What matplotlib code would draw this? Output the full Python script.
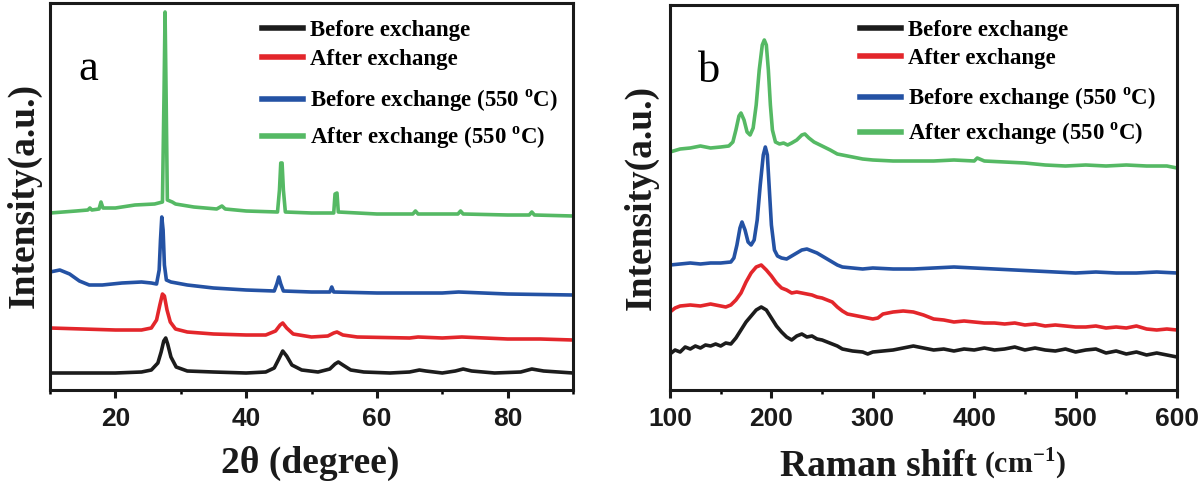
import matplotlib
matplotlib.use('Agg')
import matplotlib.pyplot as plt
from matplotlib.ticker import MultipleLocator

plt.rcParams['mathtext.fontset'] = 'custom'
plt.rcParams['mathtext.rm'] = 'Liberation Serif:bold'
plt.rcParams['mathtext.bf'] = 'Liberation Serif:bold'

# colours of the four samples
c_black = '#1c1c1c'
c_red = '#e3262b'
c_blue = '#2452a4'
c_green = '#55b964'

labels = ['Before exchange', 'After exchange',
          'Before exchange (550 $^{\\rm o}$C)', 'After exchange (550 $^{\\rm o}$C)']

# ---- XRD (panel a), intensities stacked with offsets (a.u.)
xrd_black_x = [10, 15, 20, 24, 25.5, 26.5, 27.0, 27.4, 27.7, 28.0, 28.5, 29.3, 31, 35, 40, 43, 44.3,
               45.0, 45.6, 46.2, 47.0, 48.5, 51, 52.8, 53.6, 54.1, 54.8, 56, 58, 62, 65, 66.5, 67.5,
               70, 72, 73.2, 74.5, 78, 82, 83.7, 85.5, 90]
xrd_black_y = [17, 17, 17, 18, 20, 27, 38, 49, 52, 46, 33, 23, 19, 18, 17, 18, 22,
               31, 39, 34, 25, 20, 18, 21, 26, 28, 25, 20, 18, 17, 18, 20, 19,
               17, 19, 21, 19, 17, 18, 21, 19, 17]

xrd_red_x = [10, 15, 20, 24, 25.5, 26.3, 26.8, 27.2, 27.5, 27.9, 28.4, 29.2, 31, 35, 40, 43, 44.5,
             45.2, 45.6, 46.2, 47.2, 50, 52.5, 53.4, 53.9, 54.8, 57, 65, 66.3, 70, 73, 80, 85, 90]
xrd_red_y = [62, 61, 60, 60, 62, 70, 85, 96, 94, 80, 68, 61, 58, 56, 55, 55, 59,
             65, 67, 62, 56, 53, 54, 57, 58, 55, 53, 52, 53, 52, 53, 51, 51, 50]

xrd_blue_x = [10, 11.5, 13, 14.5, 16, 18, 21, 24, 25.5, 26.3, 26.7, 26.9, 27.1, 27.3, 27.5, 27.8,
              28.5, 31, 35, 40, 44.3, 44.7, 45.0, 45.3, 45.7, 50, 52.8, 53.1, 53.4, 60, 70, 72.5,
              80, 90]
xrd_blue_y = [118, 120, 116, 109, 105, 105, 107, 108, 107, 106, 120, 150, 173, 160, 125, 110,
              108, 105, 102, 100, 99, 106, 113, 106, 99, 98, 98, 103, 98, 97, 97, 98,
              96, 95]

xrd_green_x = [10, 14, 15.8, 16.1, 16.4, 17.5, 17.8, 18.1, 20, 23, 26, 27.2, 27.45, 27.6, 27.75,
               27.95, 28.7, 29.2, 32, 35.5, 36.3, 36.8, 40, 44.8, 45.1, 45.3, 45.5, 45.7, 46, 50,
               53.4, 53.6, 53.9, 54.1, 60, 65.5, 65.9, 66.3, 72.4, 72.8, 73.2, 80, 83.3, 83.7,
               84.1, 90]
xrd_green_y = [177, 179, 180, 182, 180, 181, 188, 182, 182, 185, 186, 188, 300, 378, 300,
               190, 188, 186, 183, 181, 184, 181, 179, 178, 200, 227, 227, 200, 178, 177,
               177, 196, 197, 178, 176, 176, 179, 176, 176, 179, 176, 175, 175, 178,
               175, 174]

# ---- Raman (panel b)
ram_black_x = [100, 105, 110, 115, 120, 125, 130, 135, 140, 145, 150, 155, 160, 165, 170, 175, 180,
               185, 190, 195, 200, 205, 210, 215, 220, 225, 230, 235, 240, 245, 250, 255, 260, 265,
               270, 275, 280, 290, 295, 300, 310, 320, 330, 340, 345, 350, 360, 370, 380, 390, 400,
               410, 420, 430, 440, 450, 460, 470, 480, 490, 500, 510, 520, 530, 540, 550, 560, 570,
               580, 590, 600]
ram_black_y = [36, 40, 38, 43, 41, 44, 42, 45, 44, 46, 44, 47, 46, 52, 60, 68, 74,
               80, 83, 80, 72, 64, 58, 53, 50, 54, 56, 53, 54, 51, 50, 48, 46, 44,
               41, 40, 39, 38, 36, 38, 39, 40, 42, 44, 43, 42, 40, 41, 39, 41, 40,
               42, 40, 41, 43, 40, 42, 40, 39, 41, 38, 40, 41, 37, 39, 36, 38, 35,
               37, 35, 33]

ram_red_x = [100, 105, 110, 120, 130, 140, 150, 155, 160, 165, 170, 175, 180, 185, 190, 195, 200,
             205, 210, 215, 220, 225, 230, 235, 240, 245, 250, 255, 260, 265, 270, 275, 280, 290,
             300, 305, 310, 320, 330, 340, 350, 360, 370, 380, 390, 400, 410, 420, 430, 440, 450,
             460, 470, 480, 490, 500, 510, 520, 530, 540, 550, 560, 570, 580, 590, 600]
ram_red_y = [78, 82, 84, 85, 84, 86, 84, 83, 85, 90, 97, 108, 117, 123, 125, 120, 114,
             107, 102, 100, 97, 98, 97, 96, 95, 93, 92, 90, 88, 83, 79, 76, 75, 73,
             71, 72, 76, 78, 79, 78, 75, 71, 70, 68, 69, 68, 67, 67, 66, 67, 65,
             66, 64, 65, 64, 63, 63, 64, 62, 63, 62, 64, 61, 60, 61, 60]

ram_blue_x = [100, 110, 120, 130, 140, 150, 160, 163, 166, 169, 171, 174, 177, 180, 183, 186, 189,
              192, 194, 196, 198, 200, 203, 206, 210, 215, 220, 225, 230, 235, 240, 245, 250, 255,
              260, 265, 270, 280, 290, 300, 320, 340, 360, 380, 400, 420, 440, 460, 480, 500, 520,
              540, 560, 580, 600]
ram_blue_y = [125, 126, 127, 126, 127, 127, 128, 132, 145, 162, 168, 160, 148, 145, 150, 170, 205,
              235, 243, 235, 200, 165, 140, 134, 132, 131, 134, 137, 140, 141, 139, 137, 134, 131,
              128, 125, 123, 122, 121, 122, 121, 121, 122, 123, 122, 121, 120, 119, 118, 117, 118,
              117, 117, 118, 117]

ram_green_x = [100, 110, 120, 130, 140, 150, 158, 162, 165, 168, 170, 173, 176, 179, 182, 185, 188,
               191, 193, 195, 197, 199, 201, 204, 208, 212, 216, 220, 225, 230, 233, 237, 242, 250,
               258, 265, 275, 290, 300, 320, 340, 360, 380, 400, 403, 410, 430, 450, 470, 490, 510,
               530, 550, 570, 590, 600]
ram_green_y = [238, 241, 242, 244, 242, 243, 244, 248, 260, 274, 277, 270, 258, 255, 262, 285, 320,
               345, 350, 345, 320, 285, 260, 248, 246, 247, 245, 247, 250, 255, 256, 252, 248, 244,
               240, 236, 234, 231, 230, 229, 229, 229, 230, 229, 232, 229, 228, 227, 225, 224, 225,
               224, 225, 224, 224, 222]

fig = plt.figure(figsize=(12, 4.83), dpi=100)
ax1 = fig.add_axes([50 / 1200, 93 / 483, 523 / 1200, 387 / 483])
ax2 = fig.add_axes([670 / 1200, 93 / 483, 507 / 1200, 385 / 483])

lw = 2.6
ax1.plot(xrd_black_x, xrd_black_y, color=c_black, lw=lw, label=labels[0])
ax1.plot(xrd_red_x, xrd_red_y, color=c_red, lw=lw, label=labels[1])
ax1.plot(xrd_blue_x, xrd_blue_y, color=c_blue, lw=lw, label=labels[2])
ax1.plot(xrd_green_x, xrd_green_y, color=c_green, lw=lw, label=labels[3])

ax2.plot(ram_black_x, ram_black_y, color=c_black, lw=lw, label=labels[0])
ax2.plot(ram_red_x, ram_red_y, color=c_red, lw=lw, label=labels[1])
ax2.plot(ram_blue_x, ram_blue_y, color=c_blue, lw=lw, label=labels[2])
ax2.plot(ram_green_x, ram_green_y, color=c_green, lw=lw, label=labels[3])

ax1.set_xlim(10, 90)
ax1.set_ylim(0, 387)
ax1.xaxis.set_major_locator(MultipleLocator(20))
ax1.xaxis.set_minor_locator(MultipleLocator(10))
ax2.set_xlim(100, 600)
ax2.set_ylim(0, 385)
ax2.xaxis.set_major_locator(MultipleLocator(100))
ax2.xaxis.set_minor_locator(MultipleLocator(50))

for ax in (ax1, ax2):
    ax.set_yticks([])
    for s in ax.spines.values():
        s.set_linewidth(2.2)
        s.set_color('#1a1a1a')
    ax.tick_params(axis='x', which='major', direction='out', length=6, width=2.2, pad=6,
                   labelsize=19, colors='#1a1a1a')
    ax.tick_params(axis='x', which='minor', direction='out', length=3, width=1.8)
    for t in ax.get_xticklabels():
        t.set_fontfamily('Liberation Sans')
        t.set_fontweight('bold')

# legend split in two blocks: the rows with superscripts sit further apart
leg_kw = dict(loc='upper left', frameon=False, borderpad=0, borderaxespad=0, handlelength=1.8,
              handletextpad=0.3,
              prop={'family': 'Liberation Serif', 'weight': 'bold', 'size': 16.5})
for ax, x0, ya, yb, sa, sb in [(ax1, 0.405, 0.957, 0.78, 0.35, 0.45),
                               (ax2, 0.375, 0.96, 0.79, 0.28, 0.4)]:
    h, l = ax.get_legend_handles_labels()
    lga = ax.legend(h[:2], l[:2], bbox_to_anchor=(x0, ya), labelspacing=sa, **leg_kw)
    ax.add_artist(lga)
    lgb = ax.legend(h[2:], l[2:], bbox_to_anchor=(x0, yb), labelspacing=sb, **leg_kw)
    for lg in (lga, lgb):
        for line in lg.get_lines():
            line.set_linewidth(4)

ax1.text(0.055, 0.8, 'a', transform=ax1.transAxes, fontsize=32, family='Liberation Serif')
ax2.text(0.055, 0.8, 'b', transform=ax2.transAxes, fontsize=32, family='Liberation Serif')

lab = dict(family='Liberation Serif', weight='bold', color='#1a1a1a')
fig.text(24 / 1200, 287 / 483, 'Intensity(a.u.)', rotation=90, ha='center', va='center',
         fontsize=27, **lab)
fig.text(641 / 1200, 286 / 483, 'Intensity(a.u.)', rotation=90, ha='center', va='center',
         fontsize=27, **lab)
fig.text(310 / 1200, 20 / 483, '2\u03b8 (degree)', ha='center', va='center', fontsize=27, **lab)
fig.text(878 / 1200, 16 / 483, 'Raman shift', ha='center', va='center', fontsize=27, **lab)
fig.text(984 / 1200, 10 / 483, '(cm$^{{-}1}$)', ha='left', va='baseline', fontsize=21.5, **lab)

fig.savefig('out.png', dpi=100)
plt.close(fig)
